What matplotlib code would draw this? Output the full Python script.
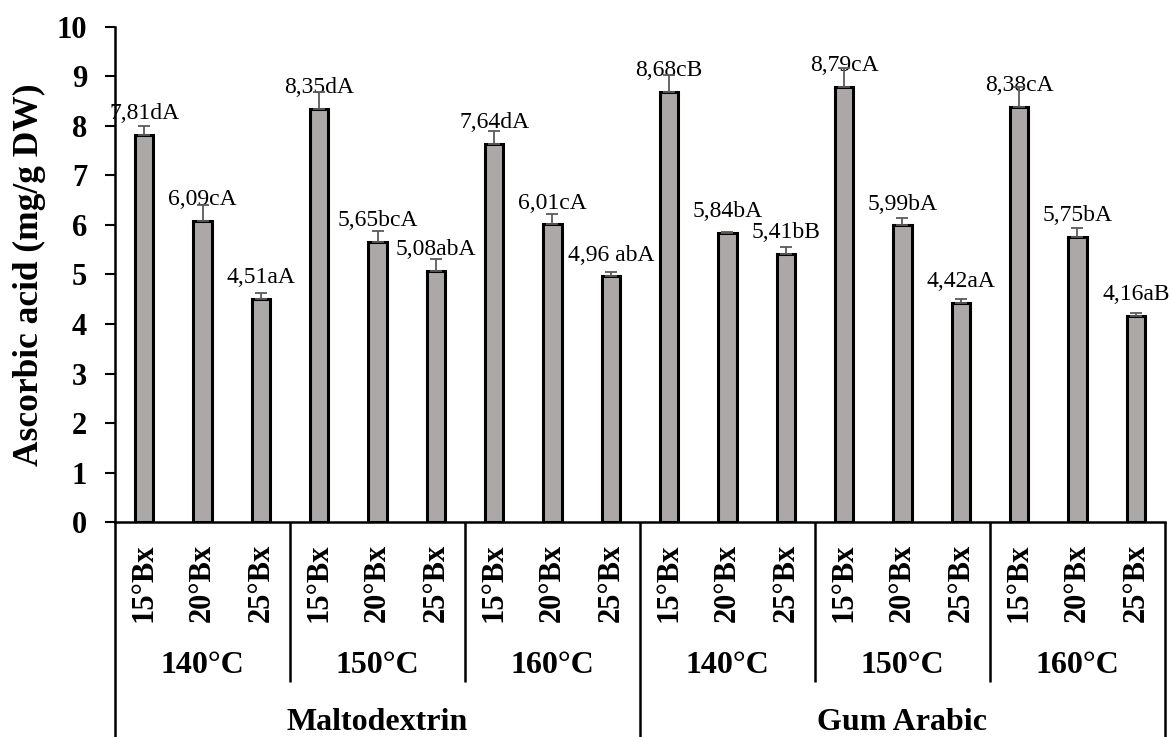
import numpy as np
import matplotlib
matplotlib.use('Agg')
import matplotlib.pyplot as plt
import matplotlib.transforms as mtransforms

plt.rcParams['font.family'] = ['Liberation Serif', 'DejaVu Serif']

# 数据
materials = ['Maltodextrin', 'Gum Arabic']
temps = ['140°C', '150°C', '160°C']
brix = ['15°Bx', '20°Bx', '25°Bx']
values = [7.81, 6.09, 4.51, 8.35, 5.65, 5.08, 7.64, 6.01, 4.96,
          8.68, 5.84, 5.41, 8.79, 5.99, 4.42, 8.38, 5.75, 4.16]
errors = [0.18, 0.31, 0.11, 0.33, 0.23, 0.23, 0.26, 0.21, 0.09,
          0.35, 0.02, 0.15, 0.38, 0.15, 0.08, 0.41, 0.19, 0.07]
bar_labels = ['7,81dA', '6,09cA', '4,51aA', '8,35dA', '5,65bcA', '5,08abA',
              '7,64dA', '6,01cA', '4,96 abA', '8,68cB', '5,84bA', '5,41bB',
              '8,79cA', '5,99bA', '4,42aA', '8,38cA', '5,75bA', '4,16aB']

n = len(values)
x = np.arange(n)

fig = plt.figure(figsize=(11.7, 7.37), dpi=100)
ax = fig.add_axes([0.0983, 0.2917, 0.8974, 0.6717])

ax.bar(x, values, width=0.31, color='#aca8a8', edgecolor='black', linewidth=2.2, zorder=2)
ax.errorbar(x, values, yerr=[np.zeros(n), errors], fmt='none', ecolor='#5a5a5a',
            elinewidth=1.3, capsize=4, capthick=1.3, zorder=4)

for xi, v, lab in zip(x, values, bar_labels):
    ax.annotate(lab, (xi, v), xytext=(0, 11.5), textcoords='offset points',
                ha='center', va='baseline', fontsize=17, zorder=3, annotation_clip=False)

ax.set_xlim(-0.5, n - 0.5)
ax.set_ylim(0, 10)
ax.set_yticks(range(0, 11))
ax.tick_params(axis='y', direction='out', length=7, width=1.5, pad=13, labelsize=22)
for t in ax.get_yticklabels():
    t.set_fontweight('bold')
ax.set_xticks([])
ax.spines['top'].set_visible(False)
ax.spines['right'].set_visible(False)
ax.spines['left'].set_linewidth(1.8)
ax.spines['bottom'].set_linewidth(1.8)

ax.set_ylabel('Ascorbic acid (mg/g DW)', fontsize=25.5, fontweight='bold')
ax.yaxis.set_label_coords(-0.066, 0.5)

# 多级横坐标
trans = mtransforms.blended_transform_factory(ax.transData, ax.transAxes)
for i in range(n):
    ax.text(x[i], -0.123, brix[i % len(brix)], rotation=90, ha='center', va='center',
            fontsize=22, fontweight='bold', transform=trans)

n_temp = len(brix)
n_mat = len(temps) * len(brix)
for j in range(n // n_temp):
    cx = j * n_temp + (n_temp - 1) / 2
    ax.text(cx, -0.289, temps[j % len(temps)], ha='center', va='center',
            fontsize=23, fontweight='bold', transform=trans)
for k in range(n // n_mat):
    cx = k * n_mat + (n_mat - 1) / 2
    ax.text(cx, -0.404, materials[k], ha='center', va='center',
            fontsize=23, fontweight='bold', transform=trans)

for b in range(0, n + 1, n_temp):
    bottom = -0.44 if b % n_mat == 0 else -0.323
    ax.plot([b - 0.5, b - 0.5], [0, bottom], color='black', lw=1.8,
            transform=trans, clip_on=False, solid_capstyle='butt')

fig.savefig('out.png', dpi=100)
